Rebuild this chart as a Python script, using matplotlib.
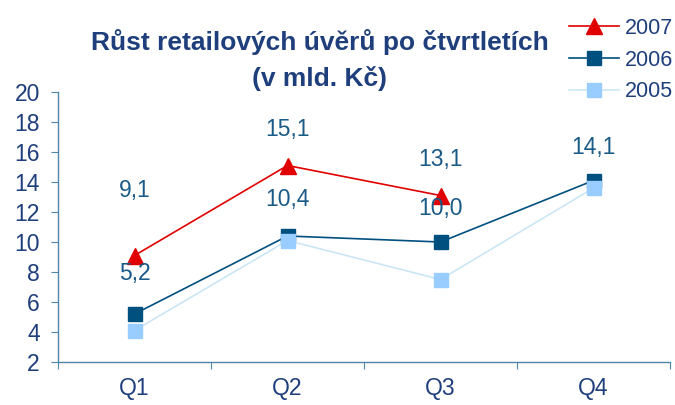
import matplotlib
matplotlib.use("Agg")
import matplotlib.pyplot as plt
from matplotlib.ticker import FixedLocator, NullFormatter

plt.rcParams['font.family'] = ['Liberation Sans', 'DejaVu Sans']

quarters = ["Q1", "Q2", "Q3", "Q4"]
y2007 = [9.1, 15.1, 13.1]
y2006 = [5.2, 10.4, 10.0, 14.1]
y2005 = [4.1, 10.1, 7.5, 13.6]
yticks = [2, 4, 6, 8, 10, 12, 14, 16, 18, 20]
title = "Růst retailových úvěrů po čtvrtletích\n(v mld. Kč)"

# label offsets (points above marker)
off2007 = [47, 26, 26]
off2006 = [29, 26, 24, 24]

navy = "#1F3F7C"
lblc = "#1A5A86"
spinec = "#4F87A8"
fs = 16.5

fig = plt.figure(figsize=(6.75, 4.05), dpi=100)
ax = fig.add_axes([58/675, 1-362/405, (670-58)/675, (362-92)/405])

x07 = list(range(len(y2007)))
x = list(range(len(quarters)))

ax.plot(x07, y2007, color="#E00000", lw=1.2, marker="^", ms=11, mec="#E00000", mfc="#E00000", label="2007", zorder=3)
ax.plot(x, y2006, color="#00507F", lw=1.2, marker="s", ms=10, mec="#00507F", mfc="#00507F", label="2006", zorder=3)
ax.plot(x, y2005, color="#CBE6F6", lw=1.2, marker="s", ms=10, mec="#99CCFF", mfc="#99CCFF", label="2005", zorder=3)

for xi, yi, o in zip(x07, y2007, off2007):
    ax.annotate(f"{yi:.1f}".replace(".", ","), (xi, yi), xytext=(0, o), textcoords="offset points",
                ha="center", va="center", fontsize=fs, color=lblc, zorder=5)
for xi, yi, o in zip(x, y2006, off2006):
    ax.annotate(f"{yi:.1f}".replace(".", ","), (xi, yi), xytext=(0, o), textcoords="offset points",
                ha="center", va="center", fontsize=fs, color=lblc, zorder=5)

ax.set_xlim(-0.5, len(quarters) - 0.5)
ax.set_ylim(2, 20)
ax.set_yticks(yticks)
ax.set_yticklabels([str(v) for v in yticks])
ax.xaxis.set_major_locator(FixedLocator([i - 0.5 for i in range(len(quarters) + 1)]))
ax.xaxis.set_major_formatter(NullFormatter())
ax.xaxis.set_minor_locator(FixedLocator(x))
ax.set_xticklabels(quarters, minor=True)
ax.tick_params(axis="x", which="minor", length=0, pad=11, labelsize=fs, labelcolor=navy)
ax.tick_params(axis="x", which="major", length=5, color=spinec, direction="out")
ax.tick_params(axis="y", length=5, color=spinec, direction="out", labelsize=fs, labelcolor=navy, pad=8)

for s in ["top", "right"]:
    ax.spines[s].set_visible(False)
for s in ["left", "bottom"]:
    ax.spines[s].set_color(spinec)
    ax.spines[s].set_linewidth(1.0)

fig.text(320/675, 1-60/405, title, ha="center", va="center", fontsize=19, fontweight="bold",
         color=navy, linespacing=1.55)

leg = fig.legend(loc="upper right", bbox_to_anchor=(1.02, 0.993), frameon=False, fontsize=15.5,
                 handlelength=2.3, handletextpad=0.3, labelspacing=0.5, borderaxespad=0.3)
for t in leg.get_texts():
    t.set_color(navy)

fig.savefig("out.png", dpi=100)
